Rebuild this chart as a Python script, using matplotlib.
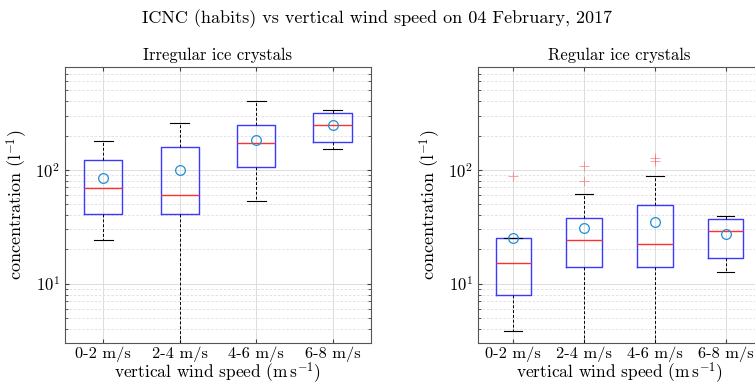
import matplotlib

matplotlib.use("Agg")
import matplotlib.pyplot as plt
from matplotlib.ticker import LogLocator, NullFormatter

plt.rcParams["font.family"] = "serif"
plt.rcParams["font.serif"] = ["cmr10", "DejaVu Serif"]
plt.rcParams["mathtext.fontset"] = "cm"
plt.rcParams["axes.formatter.use_mathtext"] = True

bins = ["0-2 m/s", "2-4 m/s", "4-6 m/s", "6-8 m/s"]

# Irregular ice crystals (l^-1)
irr_whislo = [24.3, 1.0, 53, 152]
irr_q1 = [41.2, 41.2, 105, 175]
irr_med = [69, 60, 173, 249]
irr_q3 = [121.5, 160, 249, 313]
irr_whishi = [178, 256, 404, 337]
irr_mean = [84, 98.7, 182, 246]
irr_fliers = [[], [], [], []]

# Regular ice crystals (l^-1)
reg_whislo = [3.8, 1.0, 1.0, 12.7]
reg_q1 = [7.9, 13.9, 13.9, 16.9]
reg_med = [15.3, 24.3, 22.4, 29.1]
reg_q3 = [25.3, 37.8, 49.1, 36.8]
reg_whishi = [25.3, 61.2, 87.4, 39.4]
reg_mean = [25.2, 30.5, 35.1, 27.2]
reg_fliers = [[88.7], [80, 107], [120.7, 126.5], []]


def make_stats(lo, q1, med, q3, hi, mean, fliers):
    return [
        dict(whislo=a, q1=b, med=c, q3=d, whishi=e, mean=m, fliers=f, label=lab)
        for a, b, c, d, e, m, f, lab in zip(lo, q1, med, q3, hi, mean, fliers, bins)
    ]


def draw(ax, stats, title):
    ax.bxp(
        stats, widths=0.5, capwidths=0.25, showmeans=True, showfliers=True,
        boxprops=dict(color="#3a3aff", lw=1.0),
        medianprops=dict(color="#ff3030", lw=1.0),
        whiskerprops=dict(color="black", lw=0.7, linestyle=(0, (3, 2))),
        capprops=dict(color="black", lw=0.8),
        meanprops=dict(marker="o", markerfacecolor="none", markeredgecolor="#1f8fd6",
                       markersize=7, markeredgewidth=0.9),
        flierprops=dict(marker="+", markeredgecolor="#ff6060", alpha=0.6, markersize=7,
                        markeredgewidth=0.7),
    )
    ax.set_yscale("log")
    ax.set_ylim(3, 800)
    ax.set_xlim(0.5, 4.5)
    ax.yaxis.set_major_locator(LogLocator(base=10))
    ax.yaxis.set_minor_locator(LogLocator(base=10, subs=range(2, 10)))
    ax.yaxis.set_minor_formatter(NullFormatter())
    ax.grid(True, which="major", color="#dcdcdc", lw=0.7)
    ax.grid(True, which="minor", axis="y", color="#dedede", lw=0.6, linestyle=(0, (3, 2)))
    ax.set_axisbelow(True)
    ax.tick_params(which="both", direction="in", top=True, right=True, labelsize=12,
                   color="#404040")
    ax.tick_params(which="major", length=3)
    ax.tick_params(which="minor", length=2)
    ax.tick_params(axis="x", pad=2.5, labelsize=11.8)
    for sp in ax.spines.values():
        sp.set_color("#555555")
        sp.set_linewidth(0.8)
    ax.set_title(title, fontsize=12, pad=5)
    ax.set_ylabel(r"concentration (l$^{-1}$)", fontsize=13)
    ax.set_xlabel(r"vertical wind speed ($\mathrm{m\,s^{-1}}$)", fontsize=12.5, labelpad=-1)


fig = plt.figure(figsize=(7.55, 3.88), dpi=100)
ax1 = fig.add_axes([0.0861, 0.1160, 0.405, 0.711])
ax2 = fig.add_axes([0.633, 0.1160, 0.375, 0.711])

draw(ax1, make_stats(irr_whislo, irr_q1, irr_med, irr_q3, irr_whishi, irr_mean, irr_fliers),
     "Irregular ice crystals")
draw(ax2, make_stats(reg_whislo, reg_q1, reg_med, reg_q3, reg_whishi, reg_mean, reg_fliers),
     "Regular ice crystals")

fig.suptitle("ICNC (habits) vs vertical wind speed on 04 February, 2017", fontsize=13, y=0.975)
fig.savefig("out.png", dpi=100)
